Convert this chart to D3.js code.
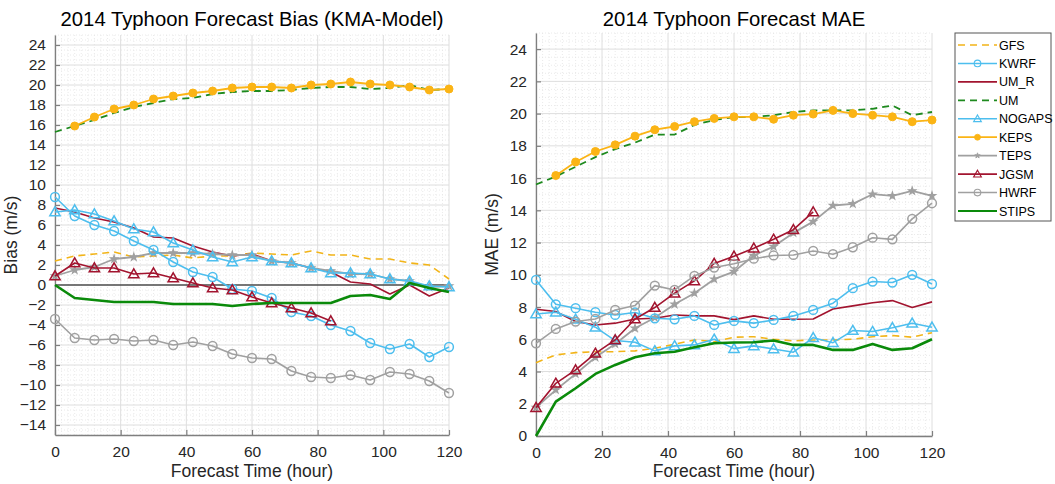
<!DOCTYPE html>
<html>
<head>
<meta charset="utf-8">
<script src="https://cdn.jsdelivr.net/npm/d3@7"></script>
<style>
  html, body { margin: 0; padding: 0; background: #fff; }
  svg { display: block; font-family: "Liberation Sans", Arial, Helvetica, sans-serif; }
</style>
</head>
<body>
<svg id="chart" width="1055" height="484"></svg>
<script>
// Forecast lead times (hours)
const hours = [0, 6, 12, 18, 24, 30, 36, 42, 48, 54, 60, 66, 72, 78, 84, 90, 96, 102, 108, 114, 120];
const hoursFrom6 = hours.slice(1);
const hoursTo84 = hours.slice(0, 15);

// Tick labels
const xTicks = [0, 20, 40, 60, 80, 100, 120];
const biasTicks = [24, 22, 20, 18, 16, 14, 12, 10, 8, 6, 4, 2, 0, -2, -4, -6, -8, -10, -12, -14];
const maeTicks = [0, 2, 4, 6, 8, 10, 12, 14, 16, 18, 20, 22, 24];

// Model names in legend order
const models = ["GFS", "KWRF", "UM_R", "UM", "NOGAPS", "KEPS", "TEPS", "JGSM", "HWRF", "STIPS"];

// ---- Bias (m/s) ----
const biasGFS    = [2.4, 2.9, 3.1, 3.3, 2.8, 2.9, 3.0, 2.7, 2.9, 2.9, 3.2, 3.1, 3.0, 3.4, 3.0, 3.0, 2.6, 2.6, 2.2, 2.0, 0.6];
const biasKWRF   = [8.8, 6.9, 6.0, 5.4, 4.4, 3.5, 2.3, 1.3, 0.8, -0.4, -0.6, -1.3, -2.7, -3.1, -4.0, -4.6, -5.8, -6.4, -5.9, -7.2, -6.2];
const biasUMR    = [7.7, 7.3, 6.7, 6.3, 5.7, 4.8, 4.7, 3.9, 3.3, 2.9, 3.1, 2.4, 2.2, 1.7, 1.3, 0.3, 0.1, -0.9, 0.0, -1.1, -0.3];
const biasUM     = [15.3, 15.9, 16.5, 17.2, 17.8, 18.2, 18.6, 18.7, 19.1, 19.3, 19.4, 19.4, 19.5, 19.7, 19.8, 19.8, 19.6, 19.7, 20.0, 19.5, 19.6];
const biasNOGAPS = [7.3, 7.5, 7.1, 6.4, 5.6, 5.3, 4.2, 3.5, 2.8, 2.3, 2.8, 2.4, 2.2, 1.7, 1.2, 1.2, 1.1, 0.6, 0.4, -0.1, -0.2];
const biasKEPS   = [15.9, 16.8, 17.6, 18.0, 18.6, 18.9, 19.2, 19.4, 19.7, 19.8, 19.8, 19.7, 20.0, 20.1, 20.3, 20.1, 20.0, 19.8, 19.5, 19.6];
const biasTEPS   = [0.9, 1.5, 1.8, 2.6, 2.8, 3.2, 3.2, 3.2, 3.1, 3.0, 3.0, 2.4, 2.2, 1.7, 1.4, 1.1, 1.1, 0.6, 0.4, -0.2, -0.1];
const biasJGSM   = [0.9, 2.2, 1.7, 1.7, 1.1, 1.2, 0.7, 0.2, -0.3, -0.5, -1.2, -1.8, -2.3, -2.8, -3.6];
const biasHWRF   = [-3.4, -5.3, -5.5, -5.4, -5.6, -5.5, -6.0, -5.7, -6.1, -6.9, -7.3, -7.4, -8.6, -9.2, -9.3, -9.0, -9.5, -8.7, -8.9, -9.6, -10.8];
const biasSTIPS  = [0.0, -1.3, -1.5, -1.7, -1.7, -1.7, -1.9, -1.9, -1.9, -2.1, -1.9, -1.8, -1.8, -1.8, -1.8, -1.1, -1.0, -1.4, 0.2, -0.3, -0.7];

// ---- MAE (m/s) ----
const maeGFS    = [4.55, 5.03, 5.17, 5.23, 5.23, 5.28, 5.44, 5.69, 5.96, 5.85, 6.13, 6.16, 6.0, 5.9, 5.96, 5.96, 6.0, 6.16, 6.23, 6.13, 6.41];
const maeKWRF   = [9.68, 8.17, 7.93, 7.68, 7.51, 7.66, 7.3, 7.24, 7.45, 6.89, 7.14, 7.0, 7.2, 7.45, 7.82, 8.24, 9.17, 9.58, 9.52, 10.0, 9.43];
const maeUMR    = [7.86, 7.72, 7.1, 6.89, 7.0, 7.26, 7.3, 7.51, 7.45, 7.45, 7.22, 7.45, 7.24, 7.24, 7.26, 7.88, 8.07, 8.27, 8.4, 7.97, 8.32];
const maeUM     = [15.6, 16.1, 16.7, 17.3, 17.8, 18.2, 18.7, 18.7, 19.3, 19.6, 19.78, 19.8, 19.9, 20.1, 20.2, 20.2, 20.2, 20.3, 20.5, 19.9, 20.1];
const maeNOGAPS = [7.57, 7.68, 7.24, 6.75, 5.92, 5.82, 5.28, 5.59, 5.65, 6.0, 5.42, 5.59, 5.4, 5.2, 6.1, 5.79, 6.54, 6.48, 6.72, 7.0, 6.75];
const maeKEPS   = [16.16, 17.0, 17.65, 18.06, 18.6, 19.0, 19.2, 19.5, 19.7, 19.8, 19.8, 19.65, 19.9, 19.97, 20.2, 20.0, 19.9, 19.8, 19.5, 19.6];
const maeTEPS   = [1.76, 2.86, 3.85, 4.88, 5.71, 6.68, 7.34, 8.17, 8.86, 9.73, 10.2, 11.2, 11.75, 12.6, 13.3, 14.3, 14.4, 15.0, 14.9, 15.2, 14.9];
const maeJGSM   = [1.76, 3.27, 4.1, 5.13, 5.96, 7.26, 7.97, 8.86, 9.62, 10.7, 11.15, 11.65, 12.2, 12.8, 13.9];
const maeHWRF   = [5.75, 6.64, 7.1, 7.26, 7.82, 8.09, 9.33, 9.06, 9.93, 10.45, 10.68, 11.0, 11.2, 11.23, 11.48, 11.28, 11.71, 12.3, 12.2, 13.47, 14.44];
const maeSTIPS  = [0.0, 2.13, 2.96, 3.85, 4.41, 4.88, 5.13, 5.23, 5.5, 5.75, 5.8, 5.82, 5.92, 5.65, 5.65, 5.34, 5.34, 5.71, 5.34, 5.44, 6.0];

// Line styles per model
const styles = {
  GFS:    { color: "#F2B418", width: 1.6, dash: "7,5", marker: null },
  KWRF:   { color: "#4DBEEE", width: 1.6, dash: null, marker: "circle" },
  UM_R:   { color: "#A2142F", width: 1.6, dash: null, marker: null },
  UM:     { color: "#1E8A1E", width: 1.8, dash: "7,5", marker: null },
  NOGAPS: { color: "#4DBEEE", width: 1.6, dash: null, marker: "triangle" },
  KEPS:   { color: "#FBB415", width: 1.8, dash: null, marker: "dot" },
  TEPS:   { color: "#A0A0A0", width: 1.8, dash: null, marker: "star" },
  JGSM:   { color: "#A2142F", width: 1.6, dash: null, marker: "triangle" },
  HWRF:   { color: "#A0A0A0", width: 1.6, dash: null, marker: "circle" },
  STIPS:  { color: "#0A8A0A", width: 2.6, dash: null, marker: null }
};

const biasSeries = [
  ["GFS", hours, biasGFS], ["UM_R", hours, biasUMR], ["UM", hours, biasUM],
  ["KEPS", hoursFrom6, biasKEPS], ["TEPS", hours, biasTEPS], ["NOGAPS", hours, biasNOGAPS],
  ["KWRF", hours, biasKWRF], ["JGSM", hoursTo84, biasJGSM], ["HWRF", hours, biasHWRF],
  ["STIPS", hours, biasSTIPS]
];
const maeSeries = [
  ["GFS", hours, maeGFS], ["UM_R", hours, maeUMR], ["UM", hours, maeUM],
  ["KEPS", hoursFrom6, maeKEPS], ["TEPS", hours, maeTEPS], ["NOGAPS", hours, maeNOGAPS],
  ["KWRF", hours, maeKWRF], ["JGSM", hoursTo84, maeJGSM], ["HWRF", hours, maeHWRF],
  ["STIPS", hours, maeSTIPS]
];

const svg = d3.select("#chart");
const axisColor = "#7f7f7f";
const textColor = "#262626";

function drawMarker(g, type, x, y, color) {
  if (type === "circle") {
    g.append("circle").attr("cx", x).attr("cy", y).attr("r", 4.4)
      .attr("fill", "none").attr("stroke", color).attr("stroke-width", 1.5);
  } else if (type === "triangle") {
    g.append("path").attr("transform", `translate(${x},${y + 0.8})`)
      .attr("d", d3.symbol(d3.symbolTriangle, 46)())
      .attr("fill", "none").attr("stroke", color).attr("stroke-width", 1.5);
  } else if (type === "dot") {
    g.append("circle").attr("cx", x).attr("cy", y).attr("r", 4)
      .attr("fill", color).attr("stroke", color).attr("stroke-width", 1);
  } else if (type === "star") {
    g.append("path").attr("transform", `translate(${x},${y})`)
      .attr("d", d3.symbol(d3.symbolStar, 16)())
      .attr("fill", color).attr("stroke", color).attr("stroke-width", 1.2);
  }
}

function panel(opts) {
  const { left, right, top, bottom, yDomain, yTicks, series, title, yLabel, zeroLine, yMinorStep } = opts;
  const x = d3.scaleLinear().domain([0, 120]).range([left, right]);
  const y = d3.scaleLinear().domain(yDomain).range([bottom, top]);
  const g = svg.append("g");

  // minor grid (dotted)
  const minorX = d3.range(0, 120.001, 2).filter(v => v % 20 !== 0);
  const minorY = d3.range(yDomain[0], yDomain[1] + 0.001, yMinorStep).filter(v => Math.abs(v % 2) > 1e-6);
  g.append("g").selectAll("line").data(minorX).join("line")
    .attr("x1", d => x(d)).attr("x2", d => x(d)).attr("y1", top).attr("y2", bottom)
    .attr("stroke", "#e4e4e4").attr("stroke-width", 0.8).attr("stroke-dasharray", "1,2");
  g.append("g").selectAll("line").data(minorY).join("line")
    .attr("y1", d => y(d)).attr("y2", d => y(d)).attr("x1", left).attr("x2", right)
    .attr("stroke", "#e4e4e4").attr("stroke-width", 0.8).attr("stroke-dasharray", "1,2");

  // major grid
  const majorY = d3.range(Math.ceil(yDomain[0] / 2) * 2, yDomain[1] + 0.001, 2);
  g.append("g").selectAll("line").data(xTicks).join("line")
    .attr("x1", d => x(d)).attr("x2", d => x(d)).attr("y1", top).attr("y2", bottom)
    .attr("stroke", "#dedede").attr("stroke-width", 1);
  g.append("g").selectAll("line").data(majorY).join("line")
    .attr("y1", d => y(d)).attr("y2", d => y(d)).attr("x1", left).attr("x2", right)
    .attr("stroke", "#dedede").attr("stroke-width", 1);

  if (zeroLine) {
    g.append("line").attr("x1", x(0)).attr("x2", x(120)).attr("y1", y(0)).attr("y2", y(0))
      .attr("stroke", "#000").attr("stroke-width", 1.2);
  }

  // axes
  const xAxis = d3.axisBottom(x).tickValues(xTicks).tickSizeInner(-5).tickSizeOuter(0).tickPadding(11);
  const yAxis = d3.axisLeft(y).tickValues(yTicks).tickSizeInner(-5).tickSizeOuter(0).tickPadding(9);
  const gx = g.append("g").attr("transform", `translate(0,${bottom})`).call(xAxis);
  const gy = g.append("g").attr("transform", `translate(${left},0)`).call(yAxis);
  [gx, gy].forEach(a => {
    a.select(".domain").attr("stroke", axisColor).attr("stroke-width", 1.3);
    a.selectAll(".tick line").attr("stroke", axisColor).attr("stroke-width", 1.2);
    a.selectAll(".tick text").attr("fill", textColor).attr("font-size", 15.5)
      .attr("font-family", "Liberation Sans, Arial, sans-serif");
  });

  // series
  series.forEach(([name, xs, ys]) => {
    const s = styles[name];
    const pts = xs.map((h, i) => [x(h), y(ys[i])]);
    g.append("path").attr("d", d3.line()(pts))
      .attr("fill", "none").attr("stroke", s.color).attr("stroke-width", s.width)
      .attr("stroke-linejoin", "round")
      .attr("stroke-dasharray", s.dash);
    if (s.marker) {
      const mg = g.append("g");
      pts.forEach(p => drawMarker(mg, s.marker, p[0], p[1], s.color));
    }
  });

  // titles and labels
  svg.append("text").attr("x", (left + right) / 2).attr("y", 26).attr("text-anchor", "middle")
    .attr("font-size", 20.3).attr("fill", "#000").text(title);
  svg.append("text").attr("x", (left + right) / 2).attr("y", 477).attr("text-anchor", "middle")
    .attr("font-size", 17.5).attr("fill", textColor).text("Forecast Time (hour)");
  svg.append("text").attr("transform", `translate(${left - 38},${(top + bottom) / 2}) rotate(-90)`)
    .attr("text-anchor", "middle").attr("font-size", 17.5).attr("fill", textColor).text(yLabel);
}

panel({ left: 55, right: 449, top: 35, bottom: 435, yDomain: [-15, 25], yTicks: biasTicks,
  series: biasSeries, title: "2014 Typhoon Forecast Bias (KMA-Model)", yLabel: "Bias (m/s)",
  zeroLine: true, yMinorStep: 0.5 });
panel({ left: 536, right: 932, top: 33, bottom: 436, yDomain: [0, 25], yTicks: maeTicks,
  series: maeSeries, title: "2014 Typhoon Forecast MAE", yLabel: "MAE (m/s)",
  zeroLine: false, yMinorStep: 0.5 });

// legend
const lg = svg.append("g");
const lgLeft = 955, lgTop = 33, lgW = 96, lgH = 188;
lg.append("rect").attr("x", lgLeft).attr("y", lgTop).attr("width", lgW).attr("height", lgH)
  .attr("fill", "#fff").attr("stroke", "#555").attr("stroke-width", 1);
const rowY = d3.scaleLinear().domain([0, models.length - 1]).range([45, 211]);
models.forEach((m, i) => {
  const s = styles[m];
  const yy = rowY(i);
  lg.append("line").attr("x1", 958).attr("x2", 997).attr("y1", yy).attr("y2", yy)
    .attr("stroke", s.color).attr("stroke-width", Math.min(s.width, 2.2)).attr("stroke-dasharray", s.dash);
  if (s.marker) {
    const mg = lg.append("g").attr("transform", `translate(977.5,${yy}) scale(0.75) translate(-977.5,${-yy})`);
    drawMarker(mg, s.marker, 977.5, yy, s.color);
  }
  lg.append("text").attr("x", 999).attr("y", yy + 4.5).attr("font-size", 12.5)
    .attr("fill", "#000").text(m);
});
</script>
</body>
</html>
